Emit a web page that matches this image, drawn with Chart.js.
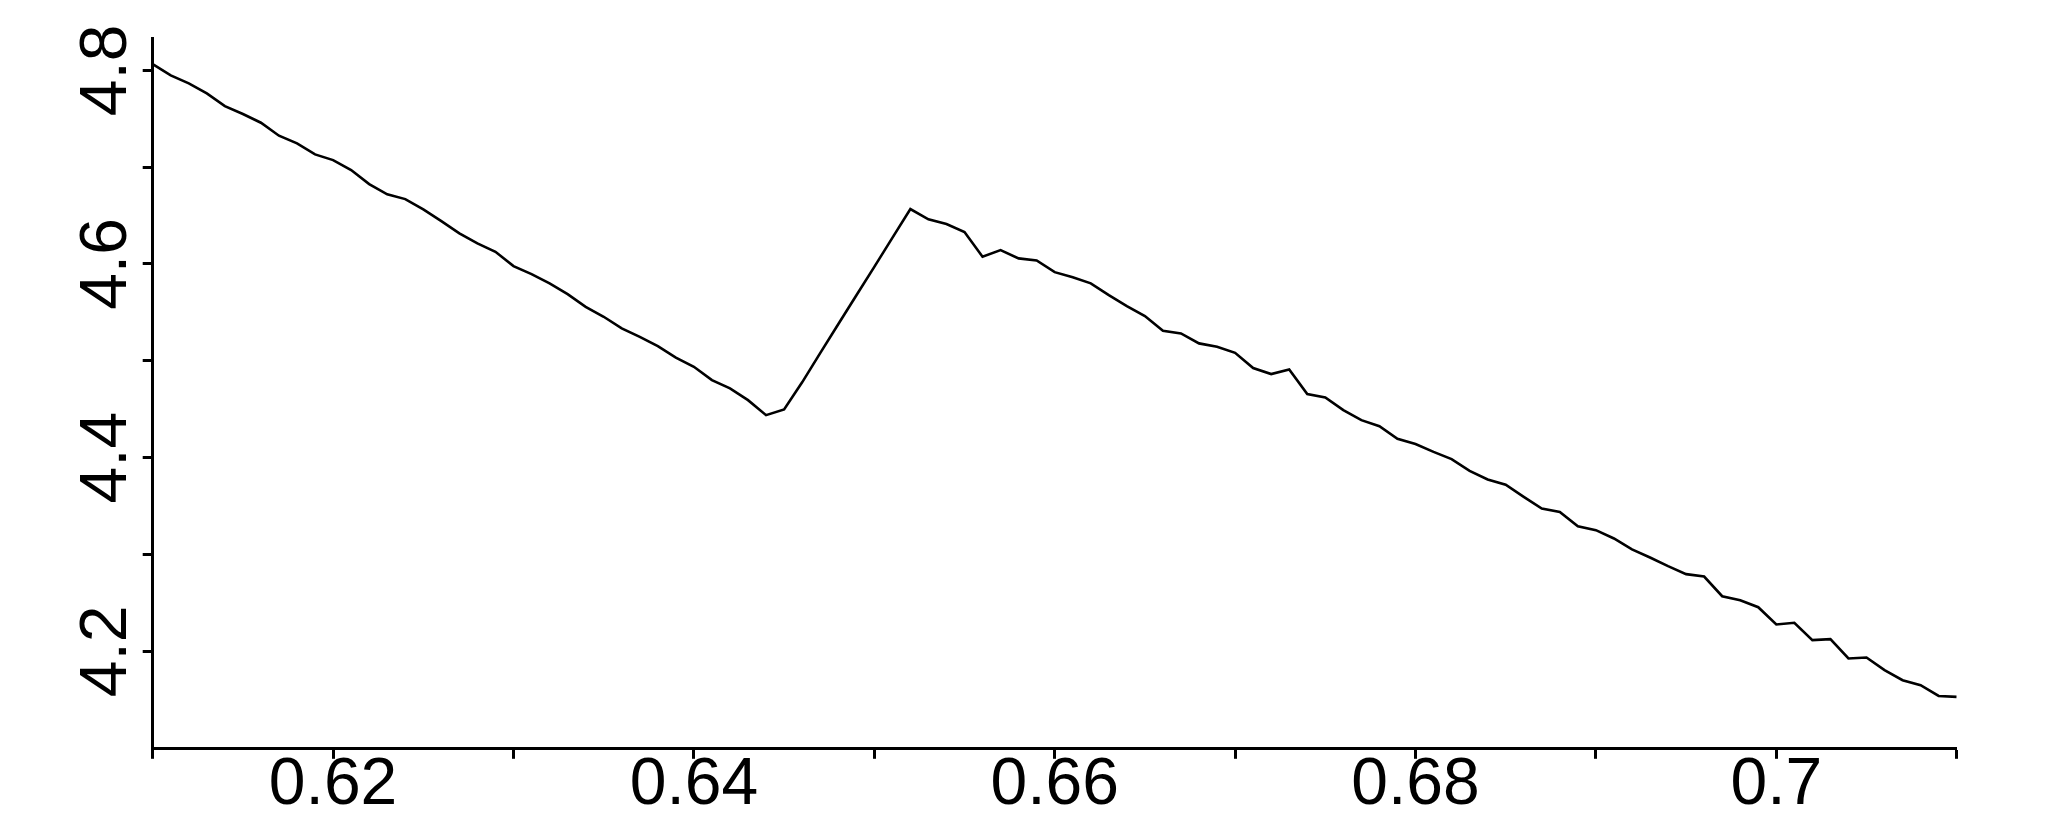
<!DOCTYPE html>
<html>
<head>
<meta charset="utf-8">
<script src="https://cdn.jsdelivr.net/npm/chart.js@4/dist/chart.umd.min.js"></script>
<style>
  html, body { margin: 0; padding: 0; background: #ffffff; }
  #wrap { width: 2048px; height: 823px; }
</style>
</head>
<body>
<div id="wrap"><canvas id="c" width="2048" height="823"></canvas></div>
<script>
const xValues = [
  0.610, 0.611, 0.612, 0.613, 0.614, 0.615, 0.616, 0.617, 0.618, 0.619,
  0.620, 0.621, 0.622, 0.623, 0.624, 0.625, 0.626, 0.627, 0.628, 0.629,
  0.630, 0.631, 0.632, 0.633, 0.634, 0.635, 0.636, 0.637, 0.638, 0.639,
  0.640, 0.641, 0.642, 0.643, 0.644, 0.645, 0.646, 0.647, 0.648, 0.649,
  0.650, 0.651, 0.652, 0.653, 0.654, 0.655, 0.656, 0.657, 0.658, 0.659,
  0.660, 0.661, 0.662, 0.663, 0.664, 0.665, 0.666, 0.667, 0.668, 0.669,
  0.670, 0.671, 0.672, 0.673, 0.674, 0.675, 0.676, 0.677, 0.678, 0.679,
  0.680, 0.681, 0.682, 0.683, 0.684, 0.685, 0.686, 0.687, 0.688, 0.689,
  0.690, 0.691, 0.692, 0.693, 0.694, 0.695, 0.696, 0.697, 0.698, 0.699,
  0.700, 0.701, 0.702, 0.703, 0.704, 0.705, 0.706, 0.707, 0.708, 0.709,
  0.710
];
const yValues = [
  4.8065, 4.7948, 4.7866, 4.7762, 4.7631, 4.7549, 4.7459, 4.7325, 4.7246, 4.7132,
  4.7073, 4.6970, 4.6825, 4.6720, 4.6670, 4.6564, 4.6443, 4.6316, 4.6213, 4.6126,
  4.5978, 4.5896, 4.5800, 4.5689, 4.5558, 4.5455, 4.5335, 4.5248, 4.5152, 4.5033,
  4.4938, 4.4801, 4.4715, 4.4594, 4.4439, 4.4498, 4.4778, 4.5080, 4.5377, 4.5674,
  4.5970, 4.6270, 4.6567, 4.6461, 4.6412, 4.6330, 4.6075, 4.6144, 4.6058, 4.6037,
  4.5916, 4.5862, 4.5800, 4.5679, 4.5565, 4.5462, 4.5310, 4.5283, 4.5180, 4.5145,
  4.5083, 4.4925, 4.4863, 4.4911, 4.4656, 4.4622, 4.4491, 4.4387, 4.4325, 4.4194,
  4.4140, 4.4060, 4.3985, 4.3864, 4.3775, 4.3720, 4.3595, 4.3475, 4.3440, 4.3292,
  4.3251, 4.3165, 4.3052, 4.2969, 4.2879, 4.2797, 4.2772, 4.2569, 4.2528, 4.2455,
  4.2277, 4.2294, 4.2115, 4.2125, 4.1926, 4.1936, 4.1805, 4.1701, 4.1650, 4.1539,
  4.1529
];
const xTickValues = [0.61, 0.62, 0.63, 0.64, 0.65, 0.66, 0.67, 0.68, 0.69, 0.70, 0.71];
const xTickLabels = ['', '0.62', '', '0.64', '', '0.66', '', '0.68', '', '0.7', ''];
const yTickValues = [4.2, 4.3, 4.4, 4.5, 4.6, 4.7, 4.8];
const yTickLabels = ['4.2', '', '4.4', '', '4.6', '', '4.8'];

const points = xValues.map((x, i) => ({ x: x, y: yValues[i] }));
const FONT = "'Liberation Sans', Arial, sans-serif";

new Chart(document.getElementById('c'), {
  type: 'line',
  data: {
    datasets: [{
      data: points,
      borderColor: '#000000',
      borderWidth: 2.6,
      pointRadius: 0,
      tension: 0,
      fill: false
    }]
  },
  options: {
    responsive: false,
    animation: false,
    events: [],
    layout: { padding: { top: 38, right: 91.3, bottom: 0, left: 0 } },
    plugins: { legend: { display: false }, tooltip: { enabled: false }, title: { display: false } },
    scales: {
      x: {
        type: 'linear',
        min: 0.61,
        max: 0.71,
        afterBuildTicks: (s) => { s.ticks = xTickValues.map(v => ({ value: v })); },
        afterFit: (s) => { s.height = 74.2; },
        ticks: {
          autoSkip: false,
          maxRotation: 0,
          minRotation: 0,
          color: '#000000',
          padding: 10,
          font: { family: FONT, size: 66, lineHeight: 0.5 },
          callback: (v, i) => xTickLabels[i]
        },
        grid: { drawOnChartArea: false, drawTicks: true, tickLength: 10, tickWidth: 3, tickColor: '#000000' },
        border: { display: true, width: 3, color: '#000000' }
      },
      y: {
        type: 'linear',
        min: 4.0993,
        max: 4.8334,
        afterBuildTicks: (s) => { s.ticks = yTickValues.map(v => ({ value: v })); },
        afterFit: (s) => { s.width = 152.7; },
        ticks: {
          autoSkip: false,
          minRotation: 90,
          maxRotation: 90,
          crossAlign: 'center',
          color: '#000000',
          padding: -11,
          font: { family: FONT, size: 66 },
          callback: (v, i) => yTickLabels[i]
        },
        grid: { drawOnChartArea: false, drawTicks: true, tickLength: 10, tickWidth: 3, tickColor: '#000000' },
        border: { display: true, width: 3, color: '#000000' }
      }
    }
  }
});
</script>
</body>
</html>
